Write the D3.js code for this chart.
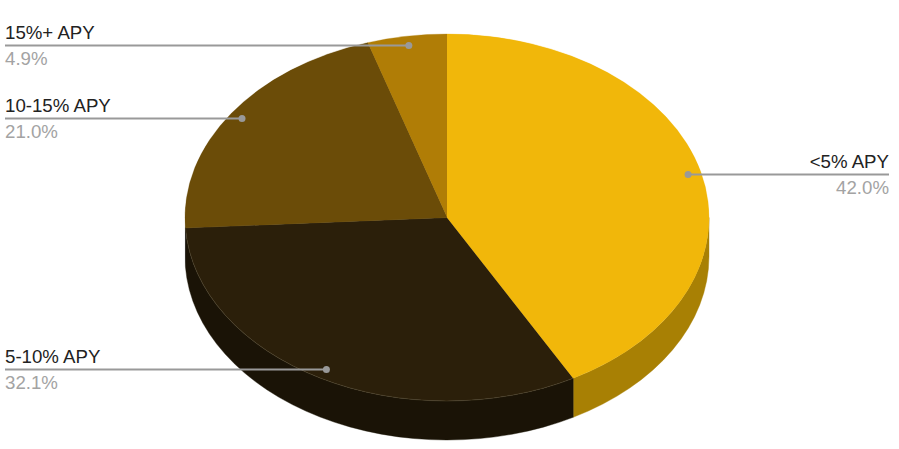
<!DOCTYPE html>
<html>
<head>
<meta charset="utf-8">
<script src="https://cdn.jsdelivr.net/npm/d3@7"></script>
<style>
html,body{margin:0;padding:0;background:#fff;}
svg{display:block;}
text{font-family:"Liberation Sans",Arial,sans-serif;font-size:18.67px;}
</style>
</head>
<body>
<svg id="chart" width="899" height="449"></svg>
<script>
const categories = ["<5% APY","5-10% APY","10-15% APY","15%+ APY"];
const values = [42.0,32.1,21.0,4.9];
const topColors = ["#f1b70a","#2b1f0a","#6b4c08","#b07d06"];
const wallColors = ["#a88004","#1a1306"];

const width=899,height=449,cx=447,cy=217.5,rx=262,ry=183.5,depth=39;
const svg=d3.select("#chart");
const pie=d3.pie().sort(null).value(d=>d)(values);
const yScale=ry/rx;
const pt=(a,k=1,dy=0)=>[cx+rx*k*Math.sin(a),cy-ry*k*Math.cos(a)+dy];

// side wall: visible for the front half of the ellipse
pie.forEach((p,i)=>{
  const a0=Math.max(p.startAngle,Math.PI/2), a1=Math.min(p.endAngle,3*Math.PI/2);
  if(a1<=a0) return;
  const s=pt(a0),e=pt(a1),e2=pt(a1,1,depth),s2=pt(a0,1,depth);
  const path=`M${s}A${rx},${ry} 0 0 1 ${e}L${e2}A${rx},${ry} 0 0 0 ${s2}Z`;
  svg.append("path").attr("d",path).attr("fill",wallColors[i]).attr("stroke",wallColors[i]).attr("stroke-width",0.4);
});

// top face
const arc=d3.arc().innerRadius(0).outerRadius(rx);
svg.append("g").attr("transform",`translate(${cx},${cy}) scale(1,${yScale})`)
  .selectAll("path").data(pie).join("path")
  .attr("d",arc).attr("fill",(d,i)=>topColors[i])
  .attr("stroke",(d,i)=>i===1?"#54482f":topColors[i])
  .attr("stroke-width",(d,i)=>i===1?0.5:0.3)
  .attr("vector-effect","non-scaling-stroke");
// restore the radial borders of the darker slice
const arcInner=d3.arc().innerRadius(0).outerRadius(rx-0.5);
svg.append("path").attr("transform",`translate(${cx},${cy}) scale(1,${yScale})`)
  .attr("d",arcInner(pie[2])).attr("fill",topColors[2]);
svg.append("path").attr("transform",`translate(${cx},${cy}) scale(1,${yScale})`)
  .attr("d",arcInner(pie[0])).attr("fill",topColors[0]);

// leader lines, dots and labels
pie.forEach((p,i)=>{
  const mid=(p.startAngle+p.endAngle)/2;
  const [dx,dy]=pt(mid,0.95);
  const right=Math.sin(mid)>0;
  const tx=right?889:5;
  const anchor=right?"end":"start";
  const ly=Math.floor(dy)+0.5;
  svg.append("line").attr("x1",tx).attr("x2",dx).attr("y1",ly).attr("y2",ly)
    .attr("stroke","#999999").attr("stroke-width",2);
  svg.append("circle").attr("cx",dx).attr("cy",ly).attr("r",3.5).attr("fill","#999999");
  svg.append("text").attr("x",tx).attr("y",ly-7).attr("text-anchor",anchor)
    .attr("fill","#222222").text(categories[i]);
  svg.append("text").attr("x",tx).attr("y",ly+19.5).attr("text-anchor",anchor)
    .attr("fill","#a3a3a3").text(values[i].toFixed(1)+"%");
});
</script>
</body>
</html>
